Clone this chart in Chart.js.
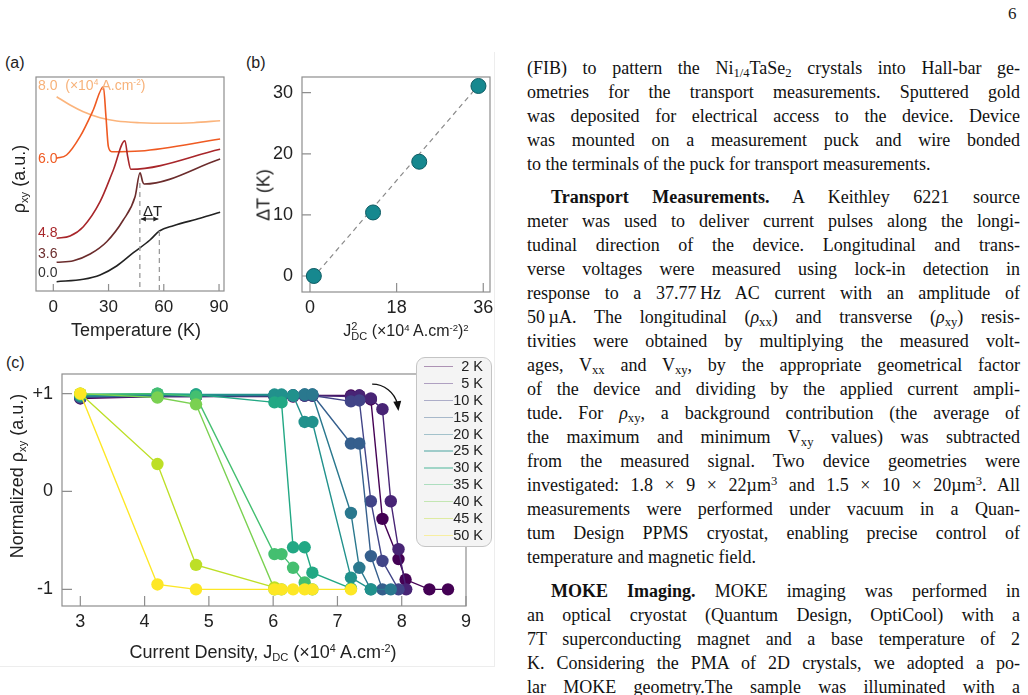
<!DOCTYPE html>
<html>
<head>
<meta charset="utf-8">
<script src="https://cdn.jsdelivr.net/npm/chart.js@4.4.0/dist/chart.umd.min.js"></script>
<style>
body { margin: 0; background: #fff; }
#page { position: relative; width: 1028px; height: 695px; overflow: hidden; font-family: "Liberation Sans", Arial, sans-serif; color: #222; }
canvas { position: absolute; }
.plab { position: absolute; font-size: 16px; transform: translateY(-50%); }
.ytitle { position: absolute; transform: translate(-50%, -50%) rotate(-90deg); white-space: nowrap; font-size: 18px; }
.xtitle { position: absolute; transform: translate(-50%, -50%); white-space: nowrap; font-size: 18px; }
.ytitle sub, .xtitle sub { font-size: 0.62em; vertical-align: -0.3em; line-height: 0; }
.xtitle sup, .clab sup { font-size: 0.6em; vertical-align: 0.55em; line-height: 0; }
.clab { position: absolute; font-size: 14px; transform: translateY(-50%); white-space: nowrap; }
.stack { display: inline-block; font-size: 11px; line-height: 10px; vertical-align: -4px; text-align: left; }
#legC { position: absolute; left: 416px; top: 357px; width: 74px; height: 188px; border: 1px solid #c4c4c4; border-radius: 9px; background: #f4f4f4; }
.lrow { position: relative; height: 16.9px; }
.lline { position: absolute; left: 7px; width: 29px; height: 1.2px; top: 8px; opacity: 0.4; }
.ltxt { position: absolute; right: 8px; top: 0; font-size: 14.5px; line-height: 16.9px; color: #222; }
.txt { position: absolute; left: 527px; width: 493px; font-family: "Liberation Serif", "Times New Roman", serif; font-size: 18px; line-height: 24px; color: #111; }
.txt div { height: 24px; text-align: justify; text-align-last: justify; }
.txt div.last { text-align-last: left; }
.txt sub { font-size: 0.7em; vertical-align: -0.25em; line-height: 0; }
.txt sup { font-size: 0.7em; vertical-align: 0.45em; line-height: 0; }
.edge { position: absolute; background: #ededed; }
</style>
</head>
<body>
<div id="page">
  <div style="position:absolute;left:1008px;top:4px;font-family:'Liberation Serif',serif;font-size:17px;">6</div>

  <div class="edge" style="left:494px;top:52px;width:1px;height:614px;"></div>
  <div class="edge" style="left:0;top:666px;width:495px;height:1px;"></div>

  <div class="plab" style="left:5px;top:63px;">(a)</div>
  <div class="plab" style="left:246px;top:63px;">(b)</div>
  <div class="plab" style="left:6px;top:363px;">(c)</div>

  <canvas id="chartA" width="240" height="300" style="left:0;top:50px;"></canvas>
  <canvas id="chartB" width="260" height="300" style="left:240px;top:50px;"></canvas>
  <canvas id="chartC" width="500" height="320" style="left:0;top:350px;"></canvas>

  <div class="ytitle" style="left:19px;top:179px;">ρ<sub>xy</sub> (a.u.)</div>
  <div class="xtitle" style="left:136px;top:330px;">Temperature (K)</div>
  <div class="clab" style="left:38px;top:85px;color:#f7b27a;">8.0&nbsp; (×10<sup>4</sup> A.cm<sup>-2</sup>)</div>
  <div class="clab" style="left:38px;top:158px;color:#ef5a22;">6.0</div>
  <div class="clab" style="left:38px;top:232px;color:#a8262a;">4.8</div>
  <div class="clab" style="left:38px;top:253px;color:#6b2c2c;">3.6</div>
  <div class="clab" style="left:38px;top:272px;color:#333;">0.0</div>
  <div class="clab" style="left:143px;top:210px;font-size:15px;">ΔT</div>

  <div class="ytitle" style="left:264px;top:195px;">ΔT (K)</div>
  <div class="xtitle" style="left:406px;top:331px;font-size:16px;">J<span class="stack">2<br>DC</span> (×10<sup>4</sup> A.cm<sup>-2</sup>)<sup>2</sup></div>

  <div class="ytitle" style="left:17px;top:476px;">Normalized ρ<sub>xy</sub> (a.u.)</div>
  <div class="xtitle" style="left:263px;top:652px;">Current Density, J<sub>DC</sub> (×10<sup>4</sup> A.cm<sup>-2</sup>)</div>
  <div id="legC"></div>

  <div class="txt" style="top:56px;">
    <div>(FIB) to pattern the Ni<sub>1/4</sub>TaSe<sub>2</sub> crystals into Hall-bar ge-</div>
    <div>ometries for the transport measurements. Sputtered gold</div>
    <div>was deposited for electrical access to the device. Device</div>
    <div>was mounted on a measurement puck and wire bonded</div>
    <div class="last">to the terminals of the puck for transport measurements.</div>
  </div>
  <div class="txt" style="top:185px;">
    <div style="padding-left:24px;"><b>Transport Measurements.</b> A Keithley 6221 source</div>
    <div>meter was used to deliver current pulses along the longi-</div>
    <div>tudinal direction of the device. Longitudinal and trans-</div>
    <div>verse voltages were measured using lock-in detection in</div>
    <div>response to a 37.77&thinsp;Hz AC current with an amplitude of</div>
    <div>50&thinsp;µA. The longitudinal (<i>ρ</i><sub>xx</sub>) and transverse (<i>ρ</i><sub>xy</sub>) resis-</div>
    <div>tivities were obtained by multiplying the measured volt-</div>
    <div>ages, V<sub>xx</sub> and V<sub>xy</sub>, by the appropriate geometrical factor</div>
    <div>of the device and dividing by the applied current ampli-</div>
    <div>tude. For <i>ρ</i><sub>xy</sub>, a background contribution (the average of</div>
    <div>the maximum and minimum V<sub>xy</sub> values) was subtracted</div>
    <div>from the measured signal. Two device geometries were</div>
    <div>investigated: 1.8 × 9 × 22µm<sup>3</sup> and 1.5 × 10 × 20µm<sup>3</sup>. All</div>
    <div>measurements were performed under vacuum in a Quan-</div>
    <div>tum Design PPMS cryostat, enabling precise control of</div>
    <div class="last">temperature and magnetic field.</div>
  </div>
  <div class="txt" style="top:579px;">
    <div style="padding-left:24px;"><b>MOKE Imaging.</b> MOKE imaging was performed in</div>
    <div>an optical cryostat (Quantum Design, OptiCool) with a</div>
    <div>7T superconducting magnet and a base temperature of 2</div>
    <div>K. Considering the PMA of 2D crystals, we adopted a po-</div>
    <div>lar MOKE geometry.The sample was illuminated with a</div>
  </div>
</div>

<script>
// ---- panel (a): rho_xy vs temperature, one curve per current density
const tempJ0 = [1.8, 16.3, 25.4, 34.4, 43.5, 52.5, 57.6, 65.2, 79.7, 90.6];
const rhoJ0 = [9.3, 11.7, 16, 25, 38.3, 51, 60, 65.3, 72.7, 78.7];
const tempJ36 = [1.8, 10.9, 20, 29, 38, 44.4, 47.1, 48.5, 49.3, 90.6];
const rhoJ36 = [28.7, 30.3, 37, 49.3, 71, 94.3, 118.3, 109.3, 107, 132];
const tempJ48 = [1.8, 9.1, 16.3, 25.4, 32.6, 38.9, 40.4, 42.1, 90.6];
const rhoJ48 = [52.7, 55, 64.3, 89.3, 121, 150.3, 134.3, 121.7, 141.7];
const tempJ60 = [1.8, 7.2, 14.5, 21.7, 27.2, 28.6, 29.9, 31.7, 47.1, 90.6];
const rhoJ60 = [132.7, 136, 154.3, 181, 204.3, 174.3, 144.3, 139.3, 140, 152];
const tempJ80 = [1.8, 9.1, 16.3, 25.4, 34.4, 47.1, 61.6, 76.1, 90.6];
const rhoJ80 = [194.3, 186, 179.3, 173.3, 170, 168.3, 167.7, 168.3, 170.3];
const tempTicks = [0, 30, 60, 90];
const dtLeft = 47, dtRight = 57.6;      // the two dashed markers
const dtLeftTop = 108, dtRightTop = 60, dtArrowY = 72;

// ---- panel (b): delta T vs J^2
const jSquared = [0.8, 13.1, 22.7, 35.0];
const deltaT = [0, 10.4, 18.7, 31.1];
const fitJ = [1.7, 33.9];
const fitT = [0.7, 30.2];
const jSqTicks = [0, 18, 36];
const deltaTTicks = [0, 10, 20, 30];

// ---- panel (c): normalized rho_xy vs current density
const tempLabels = ['2 K', '5 K', '10 K', '15 K', '20 K', '25 K', '30 K', '35 K', '40 K', '45 K', '50 K'];
const viridis = ['#440154', '#482475', '#414487', '#355f8d', '#2a788e', '#21918c', '#22a884', '#44bf70', '#7ad151', '#bddf26', '#fde725'];
const j2K = [3, 4.2, 4.8, 6.02, 6.13, 6.31, 6.49, 6.61, 7.21, 7.34, 7.52, 7.70, 7.95, 8.06, 8.43, 8.72];
const r2K = [0.95, 0.97, 0.97, 0.97, 0.97, 0.97, 0.98, 0.98, 0.98, 0.98, 0.94, -0.28, -0.69, -0.9, -1.0, -1.0];
const j5K = [3, 4.2, 4.8, 6.02, 6.13, 6.31, 6.49, 6.61, 7.21, 7.34, 7.52, 7.70, 7.83, 7.95, 8.07];
const r5K = [0.96, 0.97, 0.97, 0.98, 0.98, 0.98, 0.98, 0.98, 0.97, 0.98, 0.95, 0.84, -0.10, -0.59, -1.0];
const j10K = [3, 4.2, 4.8, 6.02, 6.13, 6.31, 6.49, 6.61, 7.21, 7.34, 7.52, 7.70, 7.95];
const r10K = [0.96, 0.98, 0.98, 0.98, 0.98, 0.98, 0.98, 0.98, 0.92, 0.93, -0.10, -0.71, -1.0];
const j15K = [3, 4.2, 4.8, 6.02, 6.13, 6.31, 6.49, 6.61, 7.21, 7.34, 7.52, 7.70];
const r15K = [0.97, 0.98, 0.98, 0.98, 0.98, 0.98, 0.99, 0.99, 0.49, 0.49, -0.66, -1.0];
const j20K = [3, 4.2, 4.8, 6.02, 6.13, 6.31, 6.49, 6.61, 7.21, 7.34, 7.52, 7.83];
const r20K = [0.97, 0.98, 0.98, 0.98, 0.98, 0.98, 0.99, 0.99, -0.22, -0.78, -1.0, -1.0];
const j25K = [3, 4.2, 4.8, 6.02, 6.13, 6.31, 6.49, 6.61, 7.21, 7.52];
const r25K = [0.98, 0.99, 0.99, 0.99, 0.99, 0.98, 0.71, 0.71, -0.88, -1.0];
const j30K = [3, 4.2, 4.8, 6.02, 6.13, 6.31, 6.49, 6.61, 7.21];
const r30K = [0.99, 1.0, 0.99, 0.91, 0.91, -0.57, -0.57, -0.83, -0.99];
const j35K = [3, 4.2, 4.8, 6.02, 6.13, 6.31, 6.49, 6.61];
const r35K = [0.99, 1.0, 0.97, -0.64, -0.64, -0.78, -0.93, -1.0];
const j40K = [3, 4.2, 4.8, 6.02, 6.13];
const r40K = [1.0, 0.96, 0.89, -1.0, -1.0];
const j45K = [3, 4.2, 4.8, 6.02];
const r45K = [1.0, 0.28, -0.75, -0.98];
const j50K = [3, 4.2, 4.8, 6.02, 6.13, 6.31, 6.49, 6.61, 7.21];
const r50K = [1.0, -0.95, -1.0, -1.0, -1.0, -1.0, -1.0, -1.0, -1.0];
const jTicks = [3, 4, 5, 6, 7, 8, 9];
const normTicks = [-1, 0, 1];
const normLabels = ['-1', '0', '+1'];

const seriesJ = [j2K, j5K, j10K, j15K, j20K, j25K, j30K, j35K, j40K, j45K, j50K];
const seriesR = [r2K, r5K, r10K, r15K, r20K, r25K, r30K, r35K, r40K, r45K, r50K];

function pairs(xs, ys) {
    return xs.map((x, i) => ({ x: x, y: ys[i] }));
}

const tickFont = { family: "'Liberation Sans', Arial, sans-serif", size: 17 };

// box around the plot + ticks pointing inwards
const framePlugin = {
    id: 'frame',
    beforeDatasetsDraw(chart, args, opts) {
        const { ctx, chartArea: a, scales } = chart;
        ctx.save();
        ctx.strokeStyle = '#8e8e8e';
        ctx.lineWidth = 1.2;
        ctx.strokeRect(a.left, a.top, a.right - a.left, a.bottom - a.top);
        const len = opts.tickLen || 9;
        ctx.beginPath();
        scales.x.ticks.forEach(t => {
            const p = scales.x.getPixelForValue(t.value);
            ctx.moveTo(p, a.bottom);
            ctx.lineTo(p, a.bottom - len);
        });
        if (opts.yTicks) {
            scales.y.ticks.forEach(t => {
                const p = scales.y.getPixelForValue(t.value);
                ctx.moveTo(a.left, p);
                ctx.lineTo(a.left + len, p);
            });
        }
        ctx.stroke();
        ctx.restore();
    }
};

function axisX(min, max, ticks, height, pad, size) {
    return {
        type: 'linear', min: min, max: max,
        grid: { display: false, drawTicks: false },
        border: { display: false },
        ticks: { color: '#222', font: Object.assign({}, tickFont, { size: size }), padding: pad, maxRotation: 0 },
        afterBuildTicks: s => { s.ticks = ticks.map(v => ({ value: v })); },
        afterFit: s => { s.height = height; }
    };
}

function axisY(min, max, ticks, width, pad, size, labels) {
    return {
        type: 'linear', min: min, max: max,
        grid: { display: false, drawTicks: false },
        border: { display: false },
        ticks: {
            display: ticks.length > 0, color: '#222', font: Object.assign({}, tickFont, { size: size }), padding: pad,
            callback: (v, i) => labels ? labels[i] : v
        },
        afterBuildTicks: s => { s.ticks = ticks.map(v => ({ value: v })); },
        afterFit: s => { s.width = width; }
    };
}

const basePlugins = { legend: { display: false }, tooltip: { enabled: false } };

// ---------- (a)
const markersA = {
    id: 'markersA',
    afterDatasetsDraw(chart) {
        const { ctx, chartArea: a, scales: { x, y } } = chart;
        ctx.save();
        ctx.strokeStyle = '#9a9a9a';
        ctx.lineWidth = 1.3;
        ctx.setLineDash([5, 4]);
        [[dtLeft, dtLeftTop], [dtRight, dtRightTop]].forEach(([t, top]) => {
            ctx.beginPath();
            ctx.moveTo(x.getPixelForValue(t), y.getPixelForValue(top));
            ctx.lineTo(x.getPixelForValue(t), a.bottom);
            ctx.stroke();
        });
        ctx.setLineDash([]);
        const x1 = x.getPixelForValue(dtLeft), x2 = x.getPixelForValue(dtRight), yy = y.getPixelForValue(dtArrowY);
        ctx.strokeStyle = '#222';
        ctx.fillStyle = '#222';
        ctx.lineWidth = 1;
        ctx.beginPath();
        ctx.moveTo(x1 + 1, yy);
        ctx.lineTo(x2 - 1, yy);
        ctx.stroke();
        [[x1 + 1, 1], [x2 - 1, -1]].forEach(([px, d]) => {
            ctx.beginPath();
            ctx.moveTo(px, yy);
            ctx.lineTo(px + 5 * d, yy - 2.5);
            ctx.lineTo(px + 5 * d, yy + 2.5);
            ctx.closePath();
            ctx.fill();
        });
        ctx.restore();
    }
};

const curveColorsA = ['#222222', '#6b2c2c', '#a8262a', '#ef5a22', '#fbb47c'];
const curvesA = [[tempJ0, rhoJ0], [tempJ36, rhoJ36], [tempJ48, rhoJ48], [tempJ60, rhoJ60], [tempJ80, rhoJ80]];

new Chart(document.getElementById('chartA'), {
    type: 'line',
    data: {
        datasets: curvesA.map((c, i) => ({
            data: pairs(c[0], c[1]),
            borderColor: curveColorsA[i],
            borderWidth: 1.6,
            pointRadius: 0,
            cubicInterpolationMode: 'monotone',
            fill: false
        }))
    },
    options: {
        responsive: false, animation: false,
        layout: { padding: { left: 0, right: 16, top: 27, bottom: 0 } },
        plugins: Object.assign({}, basePlugins, { frame: { tickLen: 7, yTicks: false } }),
        scales: {
            x: axisX(-9.4, 92.7, tempTicks, 59, 6, 17),
            y: axisY(0, 214, [], 36, 0, 17)
        }
    },
    plugins: [framePlugin, markersA]
});

// ---------- (b)
new Chart(document.getElementById('chartB'), {
    type: 'scatter',
    data: {
        datasets: [
            {
                data: pairs(jSquared, deltaT),
                backgroundColor: '#16888f',
                borderColor: '#0b5a62',
                borderWidth: 1,
                pointRadius: 7.5,
                showLine: false
            },
            {
                data: pairs(fitJ, fitT),
                borderColor: '#8a8a8a',
                borderWidth: 1.2,
                borderDash: [5, 4],
                pointRadius: 0,
                showLine: true
            }
        ]
    },
    options: {
        responsive: false, animation: false,
        layout: { padding: { left: 0, right: 10, top: 27, bottom: 0 } },
        plugins: Object.assign({}, basePlugins, { frame: { tickLen: 9, yTicks: true } }),
        scales: {
            x: axisX(-1.66, 37.4, jSqTicks, 58, 5, 18),
            y: axisY(-2.62, 32.57, deltaTTicks, 62, 9, 18)
        }
    },
    plugins: [framePlugin]
});

// ---------- (c)
const arrowC = { cx: 7.54, cy: 0.83 };   // centre of the curved "increasing T" arrow
const arrowPluginC = {
    id: 'arrowC',
    afterDatasetsDraw(chart) {
        const { ctx, scales: { x, y } } = chart;
        const cx = x.getPixelForValue(arrowC.cx), cy = y.getPixelForValue(arrowC.cy), r = 26;
        const a0 = -Math.PI / 2, a1 = -0.12;
        ctx.save();
        ctx.strokeStyle = '#111';
        ctx.fillStyle = '#111';
        ctx.lineWidth = 1.3;
        ctx.beginPath();
        ctx.arc(cx, cy, r, a0, a1 - 0.12);
        ctx.stroke();
        const ex = cx + r * Math.cos(a1), ey = cy + r * Math.sin(a1);
        const dx = -Math.sin(a1), dy = Math.cos(a1);
        ctx.beginPath();
        ctx.moveTo(ex + dx * 4, ey + dy * 4);
        ctx.lineTo(ex - dx * 6 - dy * 4, ey - dy * 6 + dx * 4);
        ctx.lineTo(ex - dx * 6 + dy * 4, ey - dy * 6 - dx * 4);
        ctx.closePath();
        ctx.fill();
        ctx.restore();
    }
};

new Chart(document.getElementById('chartC'), {
    type: 'line',
    data: {
        datasets: seriesJ.map((xs, i) => ({
            label: tempLabels[i],
            data: pairs(xs, seriesR[i]),
            borderColor: viridis[i],
            backgroundColor: viridis[i],
            pointBackgroundColor: viridis[i],
            pointBorderWidth: 0,
            pointRadius: 6.2,
            borderWidth: 1.4,
            tension: 0,
            order: -i
        }))
    },
    options: {
        responsive: false, animation: false,
        layout: { padding: { left: 0, right: 34, top: 24, bottom: 0 } },
        plugins: Object.assign({}, basePlugins, { frame: { tickLen: 10, yTicks: true } }),
        scales: {
            x: axisX(2.715, 9.0, jTicks, 64, 5, 18),
            y: axisY(-1.17, 1.2, normTicks, 62, 9, 18, normLabels)
        }
    },
    plugins: [framePlugin, arrowPluginC]
});

// legend for (c), built from the same label / colour arrays
const legendBox = document.getElementById('legC');
tempLabels.forEach((lab, i) => {
    const row = document.createElement('div');
    row.className = 'lrow';
    row.innerHTML = '<span class="lline" style="background:' + viridis[i] + '"></span><span class="ltxt">' + lab + '</span>';
    legendBox.appendChild(row);
});
</script>
</body>
</html>
